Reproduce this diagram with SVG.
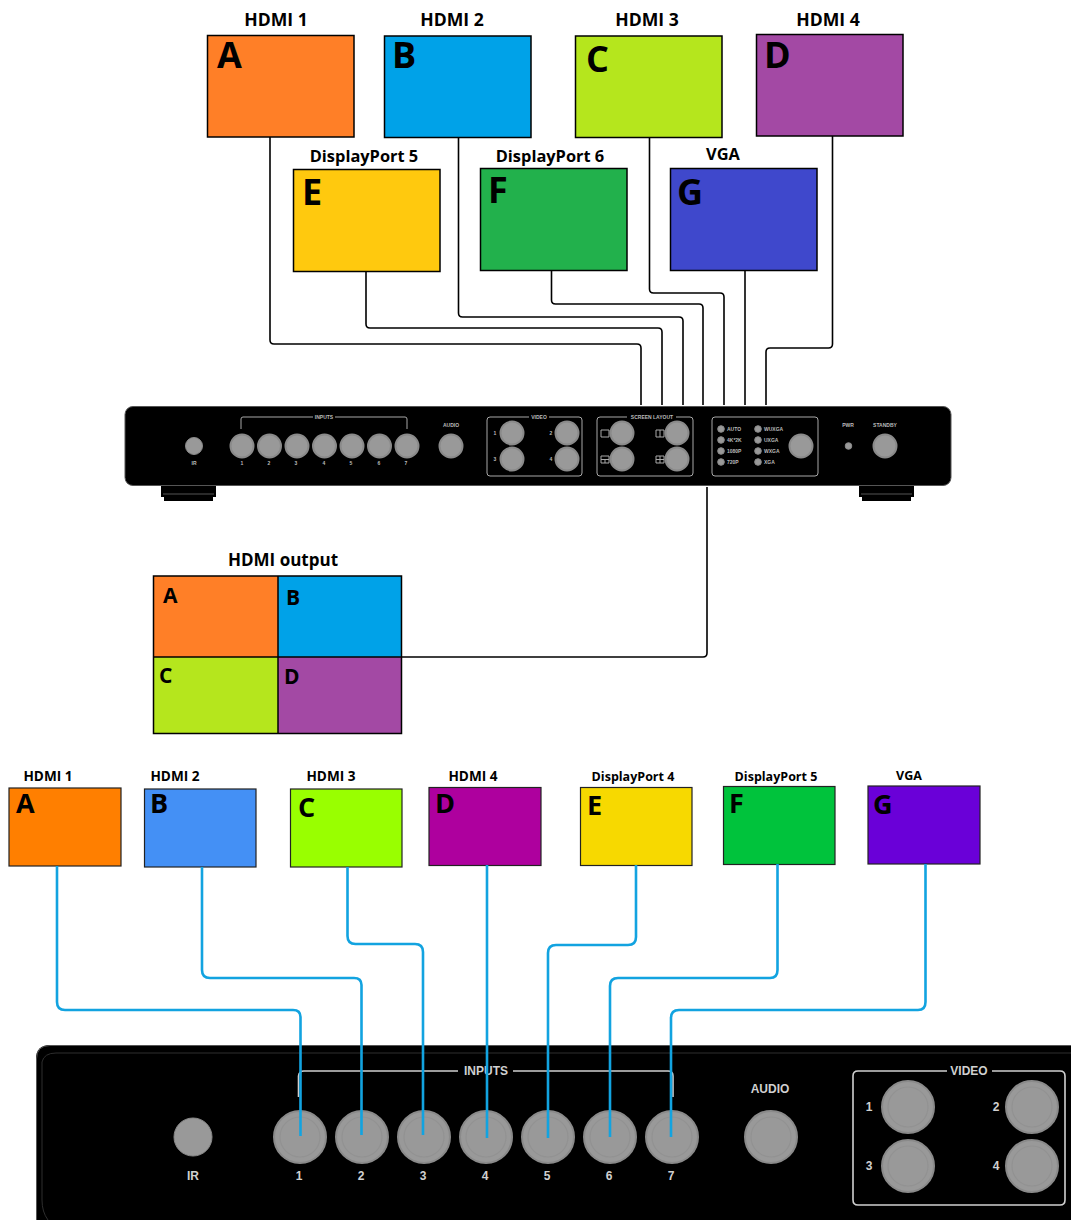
<svg xmlns="http://www.w3.org/2000/svg" width="1071" height="1220" viewBox="0 0 1071 1220">
<style>
text{font-family:"Open Sans","Noto Sans","Liberation Sans",sans-serif;font-weight:700;fill:#000;text-anchor:middle}
.s{stroke:#000;stroke-width:1.5}
.s2{stroke:#222;stroke-width:1.2}
.t{font-size:16.400px}
.th{font-size:17.600px}
.t2{font-size:12.500px}
.t2h{font-size:13.600px}
.L{font-size:36px;text-anchor:start}
.L2{font-size:27px;text-anchor:start}
.L3{font-size:21px;text-anchor:start}
.k{fill:none;stroke:#000;stroke-width:1.6;stroke-linejoin:round}
.b{fill:none;stroke:#12a3e0;stroke-width:2.6;stroke-linejoin:round}
.dev{fill:#000}
.lbl{fill:none;stroke:#a8a8a8;stroke-width:1;stroke-linejoin:round}
.lbl2{fill:none;stroke:#d0d0d0;stroke-width:1.6;stroke-linejoin:round}
.btn{fill:#999;stroke:#8a8a8a;stroke-width:1}
.btn2{fill:#999;stroke:#8a8a8a;stroke-width:2}
.ring{fill:none;stroke:#929292;stroke-width:1.2}
.m{fill:#bbb;font-size:5px;font-family:"Liberation Sans",sans-serif}
.m2{fill:#d0d0d0;font-size:12px;font-family:"Liberation Sans",sans-serif}
.m3{text-anchor:start}
</style>
<g id="node-top-a"><rect class="s" x="207.500" y="35.500" width="146.500" height="101.500" fill="#ff7f27"/><text class="th" x="276" y="26">HDMI 1</text><text class="L" x="217" y="68">A</text></g>
<g id="node-top-b"><rect class="s" x="384.500" y="36" width="146.500" height="101.500" fill="#00a2e8"/><text class="th" x="452" y="26">HDMI 2</text><text class="L" x="392" y="68">B</text></g>
<g id="node-top-c"><rect class="s" x="575.500" y="36" width="146.500" height="101.500" fill="#b5e61d"/><text class="th" x="647" y="26">HDMI 3</text><text class="L" x="586" y="72">C</text></g>
<g id="node-top-d"><rect class="s" x="756.500" y="34.500" width="146.500" height="101.500" fill="#a349a4"/><text class="th" x="828" y="26">HDMI 4</text><text class="L" x="764" y="68">D</text></g>
<g id="node-top-e"><rect class="s" x="293.500" y="169.500" width="146.500" height="102" fill="#ffc90e"/><text class="t" x="364" y="162">DisplayPort 5</text><text class="L" x="302" y="205">E</text></g>
<g id="node-top-f"><rect class="s" x="480.500" y="168.500" width="146.500" height="102" fill="#22b14c"/><text class="t" x="550" y="162">DisplayPort 6</text><text class="L" x="488" y="203">F</text></g>
<g id="node-top-g"><rect class="s" x="670.500" y="168.500" width="146.500" height="102" fill="#3f48cc"/><text class="t" x="723" y="160">VGA</text><text class="L" x="677" y="205">G</text></g>

<g id="node-device-top">
<rect class="dev" x="161" y="480" width="55" height="17"/><rect class="dev" x="164" y="496" width="49" height="5"/><path d="M163 494H214" stroke="#555" stroke-width="1"/>
<rect class="dev" x="859" y="480" width="55" height="17"/><rect class="dev" x="862" y="496" width="49" height="5"/><path d="M861 494H912" stroke="#555" stroke-width="1"/>
<rect x="125" y="406.500" width="826" height="79" rx="8" fill="#000" stroke="#555" stroke-width="1"/>
<circle class="btn" cx="194" cy="446" r="8.500"/><text class="m" x="194" y="465">IR</text>
<path class="lbl" d="M241 429V419Q241 417 243 417H313M335 417H405Q407 417 407 419V429"/><text class="m" x="324" y="419">INPUTS</text>
<circle class="btn2" cx="242" cy="446" r="11.500"/><circle class="btn2" cx="269.500" cy="446" r="11.500"/><circle class="btn2" cx="297" cy="446" r="11.500"/><circle class="btn2" cx="324.500" cy="446" r="11.500"/><circle class="btn2" cx="352" cy="446" r="11.500"/><circle class="btn2" cx="379.500" cy="446" r="11.500"/><circle class="btn2" cx="407" cy="446" r="11.500"/>
<text class="m" x="242" y="465">1</text><text class="m" x="269" y="465">2</text><text class="m" x="296" y="465">3</text><text class="m" x="324" y="465">4</text><text class="m" x="351" y="465">5</text><text class="m" x="379" y="465">6</text><text class="m" x="406" y="465">7</text>
<text class="m" x="451" y="427">AUDIO</text><circle class="btn2" cx="451" cy="446" r="11.500"/>
<path class="lbl" d="M529 417H490Q487 417 487 420V473Q487 476 490 476H579Q582 476 582 473V420Q582 417 579 417H549"/><text class="m" x="539" y="419">VIDEO</text>
<circle class="btn2" cx="512" cy="433" r="11.500"/><circle class="btn2" cx="567" cy="433" r="11.500"/><circle class="btn2" cx="512" cy="459" r="11.500"/><circle class="btn2" cx="567" cy="459" r="11.500"/>
<text class="m" x="495" y="435">1</text><text class="m" x="551" y="435">2</text><text class="m" x="495" y="461">3</text><text class="m" x="551" y="461">4</text>
<path class="lbl" d="M627 417H600Q597 417 597 420V473Q597 476 600 476H690Q693 476 693 473V420Q693 417 690 417H676"/><text class="m" x="652" y="419">SCREEN LAYOUT</text>
<circle class="btn2" cx="622" cy="433" r="11.500"/><circle class="btn2" cx="677" cy="433" r="11.500"/><circle class="btn2" cx="622" cy="459" r="11.500"/><circle class="btn2" cx="677" cy="459" r="11.500"/>
<path class="lbl" d="M601 430h8v7h-8zM656 430h8v7h-8zM660 430v7M601 456h8v7h-8zM601 459.500h8M605 459.500v3.500M656 456h8v7h-8zM656 459.500h8M660 456v7"/>
<rect class="lbl" x="712" y="417" width="106" height="59" rx="3"/>
<circle class="btn" cx="721" cy="429" r="3.300"/><circle class="btn" cx="721" cy="440" r="3.300"/><circle class="btn" cx="721" cy="451" r="3.300"/><circle class="btn" cx="721" cy="462" r="3.300"/><circle class="btn" cx="758" cy="429" r="3.300"/><circle class="btn" cx="758" cy="440" r="3.300"/><circle class="btn" cx="758" cy="451" r="3.300"/><circle class="btn" cx="758" cy="462" r="3.300"/>
<text class="m m3" x="727" y="431">AUTO</text><text class="m m3" x="727" y="442">4K*2K</text><text class="m m3" x="727" y="453">1080P</text><text class="m m3" x="727" y="464">720P</text>
<text class="m m3" x="764" y="431">WUXGA</text><text class="m m3" x="764" y="442">UXGA</text><text class="m m3" x="764" y="453">WXGA</text><text class="m m3" x="764" y="464">XGA</text>
<circle class="btn2" cx="801" cy="446" r="11.500"/>
<text class="m" x="848" y="427">PWR</text><circle class="btn" cx="848.500" cy="446" r="3.300"/>
<text class="m" x="885" y="427">STANDBY</text><circle class="btn2" cx="885" cy="446" r="11.500"/>
</g>

<g id="node-hdmi-output">
<text class="t" x="283" y="566" style="font-size:17px">HDMI output</text>
<rect x="153.500" y="576" width="125" height="81" fill="#ff7f27"/><rect x="278" y="576" width="123.500" height="81" fill="#00a2e8"/><rect x="153.500" y="657" width="125" height="76.500" fill="#b5e61d"/><rect x="278" y="657" width="123.500" height="76.500" fill="#a349a4"/>
<path d="M153.500 576H401.500V733.500H153.500ZM278 576V733.500M153.500 657H401.500" fill="none" stroke="#000" stroke-width="1.500"/>
<text class="L3" x="163" y="603">A</text><text class="L3" x="286" y="605">B</text><text class="L3" x="159" y="683">C</text><text class="L3" x="284" y="684">D</text>
</g>

<g id="connectors-top">
<path class="k" d="M270 137V340Q270 344 274 344H637Q641 344 641 348V405"/>
<path class="k" d="M366 271V324Q366 328 370 328H658Q662 328 662 332V405"/>
<path class="k" d="M458.500 137V313Q458.500 317 462.500 317H679Q683 317 683 321V405"/>
<path class="k" d="M551.500 270V300Q551.500 304 555.500 304H699Q703 304 703 308V405"/>
<path class="k" d="M649.500 137V289Q649.500 293 653.500 293H720Q724 293 724 297V405"/>
<path class="k" d="M745 270V405"/>
<path class="k" d="M832.500 136V344Q832.500 348 828.500 348H770Q766 348 766 352V405"/>
<path class="k" d="M707 487V653Q707 657 703 657H401"/>
</g>

<g id="node-bottom-a"><rect class="s2" x="9" y="788" width="112" height="78" fill="#ff7f00"/><text class="t2h" x="48" y="781">HDMI 1</text><text class="L2" x="16" y="813">A</text></g>
<g id="node-bottom-b"><rect class="s2" x="144.500" y="789" width="111.500" height="78" fill="#4490f5"/><text class="t2h" x="175" y="781">HDMI 2</text><text class="L2" x="150" y="813">B</text></g>
<g id="node-bottom-c"><rect class="s2" x="290.500" y="789" width="111.500" height="78" fill="#99ff00"/><text class="t2h" x="331" y="781">HDMI 3</text><text class="L2" x="298" y="817">C</text></g>
<g id="node-bottom-d"><rect class="s2" x="429" y="787.500" width="112" height="78" fill="#ae009e"/><text class="t2h" x="473" y="781">HDMI 4</text><text class="L2" x="435" y="813">D</text></g>
<g id="node-bottom-e"><rect class="s2" x="580.500" y="787.500" width="111.500" height="78" fill="#f7d900"/><text class="t2" x="633" y="781">DisplayPort 4</text><text class="L2" x="587" y="815">E</text></g>
<g id="node-bottom-f"><rect class="s2" x="723.500" y="786.500" width="111.500" height="78" fill="#00c33c"/><text class="t2" x="776" y="781">DisplayPort 5</text><text class="L2" x="729" y="813">F</text></g>
<g id="node-bottom-g"><rect class="s2" x="868" y="786" width="112" height="78" fill="#6a00d8"/><text class="t2" x="909" y="780">VGA</text><text class="L2" x="873" y="814">G</text></g>

<g id="node-device-bottom">
<path d="M1071 1045H50Q36 1045 36 1059V1220H1071Z" fill="#000"/>
<path d="M1071 1045.500H50Q36.500 1045.500 36.500 1059V1220" fill="none" stroke="#555" stroke-width="1"/>
<path d="M1071 1053H56Q44 1053 42 1062V1200Q42 1212 48 1220" fill="none" stroke="#2e2e2e" stroke-width="1"/>
<circle class="btn" cx="193" cy="1137" r="19"/><text class="m2" x="193" y="1180">IR</text>
<path class="lbl2" d="M298.500 1097V1076Q299 1071 304 1071H458M513 1071H668Q673 1071 673 1076V1097"/><text class="m2" x="486" y="1075">INPUTS</text>
<g><circle class="btn2" cx="300" cy="1137" r="26"/><circle class="ring" cx="300" cy="1137" r="20"/><circle class="btn2" cx="362" cy="1137" r="26"/><circle class="ring" cx="362" cy="1137" r="20"/><circle class="btn2" cx="424" cy="1137" r="26"/><circle class="ring" cx="424" cy="1137" r="20"/><circle class="btn2" cx="486" cy="1137" r="26"/><circle class="ring" cx="486" cy="1137" r="20"/><circle class="btn2" cx="548" cy="1137" r="26"/><circle class="ring" cx="548" cy="1137" r="20"/><circle class="btn2" cx="610" cy="1137" r="26"/><circle class="ring" cx="610" cy="1137" r="20"/><circle class="btn2" cx="672" cy="1137" r="26"/><circle class="ring" cx="672" cy="1137" r="20"/></g>
<text class="m2" x="299" y="1180">1</text><text class="m2" x="361" y="1180">2</text><text class="m2" x="423" y="1180">3</text><text class="m2" x="485" y="1180">4</text><text class="m2" x="547" y="1180">5</text><text class="m2" x="609" y="1180">6</text><text class="m2" x="671" y="1180">7</text>
<text class="m2" x="770" y="1093">AUDIO</text><circle class="btn2" cx="771" cy="1137" r="26"/><circle class="ring" cx="771" cy="1137" r="20"/>
<path class="lbl2" d="M947 1071H858Q853 1071 853 1076V1200Q853 1205 858 1205H1060Q1065 1205 1065 1200V1076Q1065 1071 1060 1071H992"/><text class="m2" x="969" y="1075">VIDEO</text>
<circle class="btn2" cx="908" cy="1107" r="26"/><circle class="ring" cx="908" cy="1107" r="20"/><circle class="btn2" cx="1032" cy="1107" r="26"/><circle class="ring" cx="1032" cy="1107" r="20"/><circle class="btn2" cx="908" cy="1166" r="26"/><circle class="ring" cx="908" cy="1166" r="20"/><circle class="btn2" cx="1032" cy="1166" r="26"/><circle class="ring" cx="1032" cy="1166" r="20"/>
<text class="m2" x="869" y="1111">1</text><text class="m2" x="996" y="1111">2</text><text class="m2" x="869" y="1170">3</text><text class="m2" x="996" y="1170">4</text>
</g>

<g id="connectors-bottom">
<path class="b" d="M57 866V1002Q57 1010 65 1010H293Q300.500 1010 300.500 1017V1136"/>
<path class="b" d="M202 867V970Q202 978 210 978H354Q361.500 978 361.500 985V1135"/>
<path class="b" d="M347.500 867V936Q347.500 944 355.500 944H415Q423 944 423 952V1135"/>
<path class="b" d="M487 865V1138"/>
<path class="b" d="M636 865V937Q636 945 628 945H556Q548 945 548 953V1138"/>
<path class="b" d="M777.500 864V970Q777.500 978 770 978H618Q610 978 610 986V1137"/>
<path class="b" d="M925.500 864V1002Q925.500 1010 918 1010H679Q671 1010 671 1018V1137"/>
</g>
</svg>
